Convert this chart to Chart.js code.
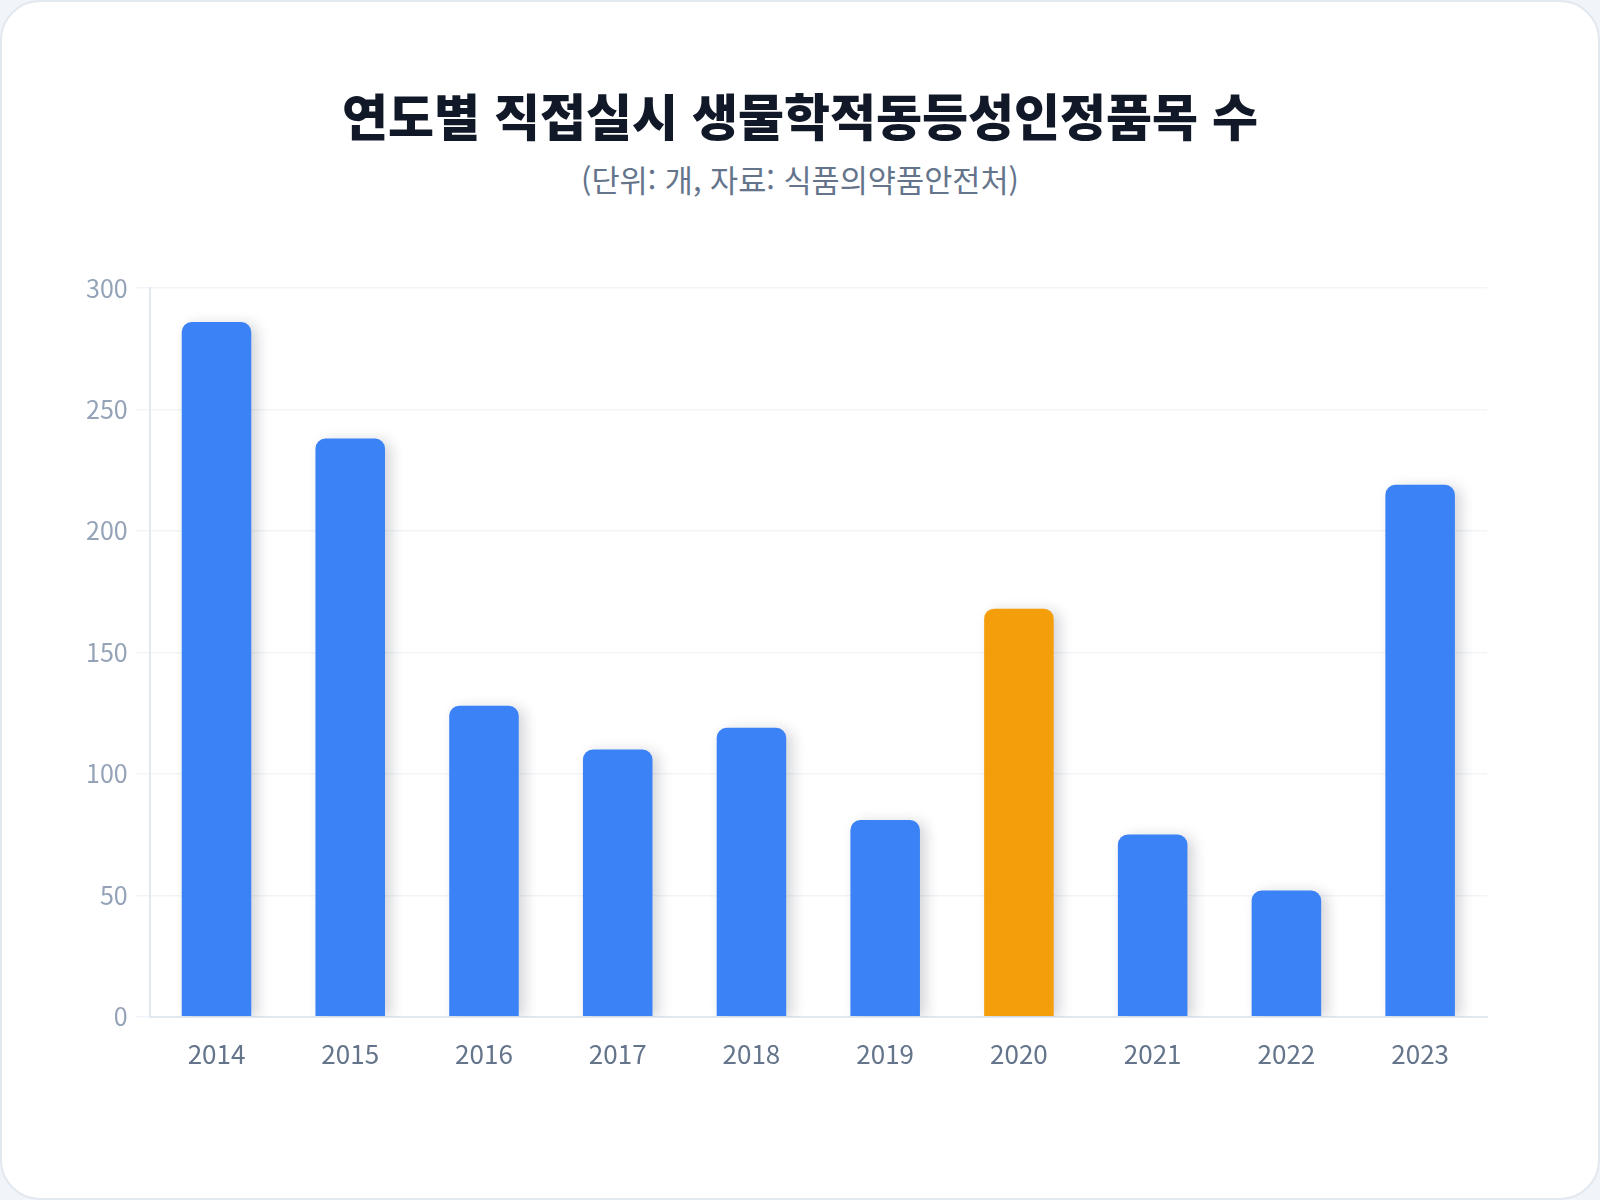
<!DOCTYPE html>
<html lang="ko">
<head>
<meta charset="UTF-8">
<script src="https://cdn.jsdelivr.net/npm/chart.js@4"></script>
<style>
    html, body { margin: 0; padding: 0; width: 1600px; height: 1200px; background: #f1f5f9; overflow: hidden; }
    .card {
        position: absolute; left: 0; top: 0; width: 1596px; height: 1196px;
        background: #ffffff; border: 2px solid #e2e8f0; border-radius: 40px;
        font-family: "Noto Sans CJK KR", "Noto Sans", sans-serif;
    }
    h1 {
        position: absolute; left: 0; right: 0; top: 80px; margin: 0;
        text-align: center; font-size: 50px; font-weight: 800; color: #111827; line-height: 64px;
    }
    .sub {
        position: absolute; left: 0; right: 0; top: 157px; margin: 0;
        text-align: center; font-size: 30.6px; color: #64748b; line-height: 40px;
    }
    .chart-box { position: absolute; left: 76px; top: 263px; width: 1413px; height: 827px; }
</style>
</head>
<body>
<div class="card">
    <h1>연도별 직접실시 생물학적동등성인정품목 수</h1>
    <p class="sub">(단위: 개, 자료: 식품의약품안전처)</p>
    <div class="chart-box"><canvas id="bioChart"></canvas></div>
</div>
<script>
const years = ["2014", "2015", "2016", "2017", "2018", "2019", "2020", "2021", "2022", "2023"];
const counts = [286, 238, 128, 110, 119, 81, 168, 75, 52, 219];
const highlightYear = "2020";
const yTicks = [0, 50, 100, 150, 200, 250, 300];

// bar shadow, offset to the lower right
const barShadow = {
    id: "barShadow",
    beforeDatasetsDraw(chart) {
        const ctx = chart.ctx;
        ctx.save();
        ctx.shadowColor = "rgba(15, 23, 42, 0.18)";
        ctx.shadowBlur = 14;
        ctx.shadowOffsetX = 6;
        ctx.shadowOffsetY = 2;
    },
    afterDatasetsDraw(chart) {
        chart.ctx.restore();
    }
};

const barColors = years.map(y => y === highlightYear ? "#f59e0b" : "#3b82f6");

new Chart(document.getElementById("bioChart").getContext("2d"), {
    type: "bar",
    data: {
        labels: years,
        datasets: [{
            data: counts,
            backgroundColor: barColors,
            borderRadius: { topLeft: 10, topRight: 10 },
            borderSkipped: "start",
            barPercentage: 0.65,
            categoryPercentage: 0.8
        }]
    },
    options: {
        responsive: true,
        maintainAspectRatio: false,
        animation: false,
        layout: { padding: { top: 4, right: 4, bottom: 0, left: 0 } },
        plugins: {
            legend: { display: false },
            tooltip: { enabled: false }
        },
        scales: {
            x: {
                grid: { display: false, drawTicks: false },
                border: { color: "#e2e8f0", width: 2 },
                ticks: {
                    color: "#64748b",
                    padding: 22,
                    font: { family: "'Noto Sans CJK KR', 'Noto Sans', sans-serif", size: 26 }
                }
            },
            y: {
                min: 0,
                max: 300,
                afterBuildTicks(axis) {
                    axis.ticks = yTicks.map(v => ({ value: v }));
                },
                grid: { color: "#f1f5f9", lineWidth: 1.5, tickLength: 14, tickColor: "#f1f5f9" },
                border: { color: "#e2e8f0", width: 2 },
                ticks: {
                    color: "#94a3b8",
                    padding: 8,
                    font: { family: "'Noto Sans CJK KR', 'Noto Sans', sans-serif", size: 25 }
                }
            }
        }
    },
    plugins: [barShadow]
});
</script>
</body>
</html>
